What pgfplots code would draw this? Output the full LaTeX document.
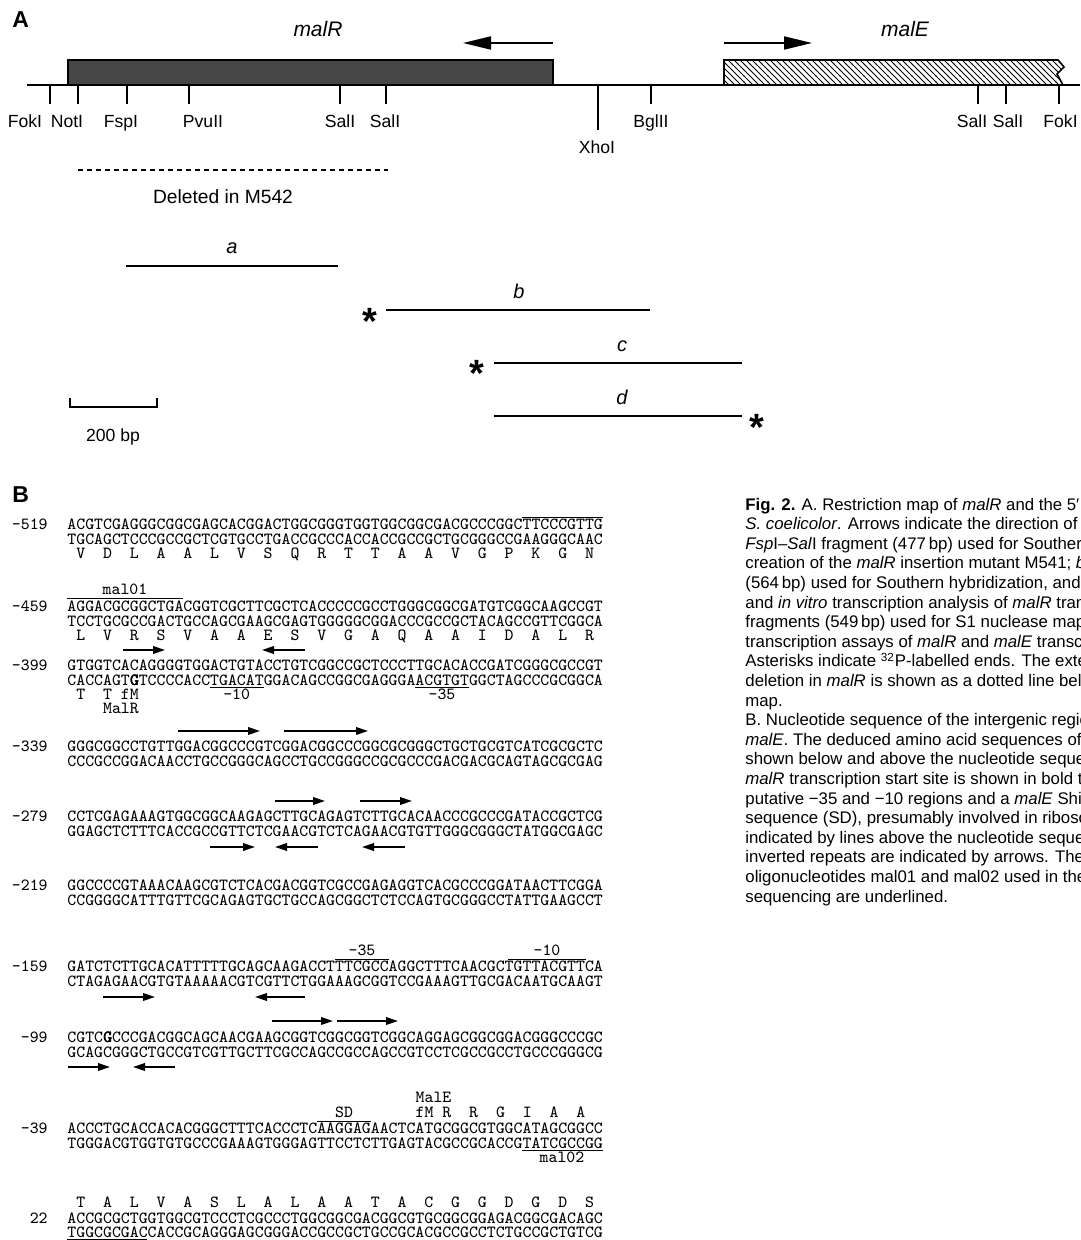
\documentclass[border=0pt]{standalone}
\usepackage{fontspec}
\setmainfont{Liberation Sans}
\usepackage{pgfplots}
\pgfplotsset{compat=1.18}
\usetikzlibrary{patterns,arrows.meta}
\newcommand{\sq}{\ttfamily\fontsize{8.5}{8.5}\selectfont}
\newcommand{\bG}{\rlap{\kern0.3pt G}\rlap{\kern0.15pt G}G}
\begin{document}
\begin{tikzpicture}[
  seq/.style={anchor=base west, inner sep=0pt, font=\sq},
  num/.style={anchor=base east, inner sep=0pt, font=\sq},
  cen/.style={anchor=base, inner sep=0pt, font=\sq},
  site/.style={anchor=base, inner sep=0pt, font=\fontsize{8.8}{8.8}\selectfont},
  capt/.style={anchor=base west, inner sep=0pt, font=\fontsize{8.4}{10}\selectfont},
  ra/.style={line width=0.9pt, -{Triangle[length=6pt,width=3.8pt]}},
  ln/.style={line width=0.5pt},
  star/.style={anchor=center, inner sep=0pt, font=\fontsize{19}{19}\selectfont\bfseries},
]
\useasboundingbox (0,0) rectangle (540pt,620pt);
\clip (0,0) rectangle (540pt,620pt);
\begin{axis}[at={(0pt,0pt)}, anchor=south west, width=540pt, height=620pt,
  scale only axis, xmin=0, xmax=1080, ymin=0, ymax=1240, y dir=reverse,
  hide axis, clip=false]
% ---------------- Part A ----------------
\addplot[line width=1pt] coordinates {(27,85) (1080,85)};
\addplot[draw=black, fill=black!72, line width=0.8pt] coordinates {(68,60) (553,60) (553,85) (68,85)} -- cycle;
\addplot[draw=black, pattern=north west lines, line width=0.8pt] coordinates {(724,85) (724,60) (1058,60) (1064,67) (1057,74) (1063,85)} -- cycle;
\addplot[line width=1pt, -{Triangle[length=14pt,width=6.5pt]}] coordinates {(553,43) (463,43)};
\addplot[line width=1pt, -{Triangle[length=14pt,width=6.5pt]}] coordinates {(724,43) (812,43)};
\pgfplotsinvokeforeach{50,78,127,189,340,386,651,978,1006,1059}{
  \addplot[line width=0.6pt] coordinates {(#1,85) (#1,104)};
}
\addplot[line width=0.6pt] coordinates {(598,85) (598,130)};
\node[anchor=base west, inner sep=0pt, font=\fontsize{11.5}{11.5}\selectfont\bfseries] at (12,28) {A};
\node[anchor=base, inner sep=0pt, font=\fontsize{10.5}{10.5}\selectfont\itshape] at (318,37) {malR};
\node[anchor=base, inner sep=0pt, font=\fontsize{10.5}{10.5}\selectfont\itshape] at (905,37) {malE};
\node[site] at (25,127.5) {FokI};
\node[site] at (67,127.5) {NotI};
\node[site] at (121,127.5) {FspI};
\node[site] at (203,127.5) {PvuII};
\node[site] at (340,127.5) {SalI};
\node[site] at (385,127.5) {SalI};
\node[site] at (651,127.5) {BglII};
\node[site] at (972,127.5) {SalI};
\node[site] at (1008,127.5) {SalI};
\node[site, anchor=base west] at (1043,127.5) {FokI};
\node[site] at (597,154) {XhoI};
\addplot[line width=1pt, dash pattern=on 2.5pt off 2pt] coordinates {(78,170) (388,170)};
\node[anchor=base, inner sep=0pt, font=\fontsize{9.6}{9.6}\selectfont] at (223,204) {Deleted in M542};
\addplot[line width=1pt] coordinates {(126,266) (338,266)};
\addplot[line width=1pt] coordinates {(386,310) (650,310)};
\addplot[line width=1pt] coordinates {(494,363) (742,363)};
\addplot[line width=1pt] coordinates {(494,416) (742,416)};
\node[anchor=base, inner sep=0pt, font=\fontsize{10}{10}\selectfont\itshape] at (232,254) {a};
\node[anchor=base, inner sep=0pt, font=\fontsize{10}{10}\selectfont\itshape] at (519,299) {b};
\node[anchor=base, inner sep=0pt, font=\fontsize{10}{10}\selectfont\itshape] at (622,352) {c};
\node[anchor=base, inner sep=0pt, font=\fontsize{10}{10}\selectfont\itshape] at (622,405) {d};
\node[star] at (370,321) {*};
\node[star] at (477,373) {*};
\node[star] at (757,427) {*};
\addplot[line width=0.6pt] coordinates {(70,398) (70,407) (157,407) (157,398)};
\node[site] at (113,441) {200 bp};
% ---------------- Part B ----------------
\node[anchor=base west, inner sep=0pt, font=\fontsize{11.5}{11.5}\selectfont\bfseries] at (12,502) {B};
% -519
\node[num] at (48,529) {-519};
\node[seq] at (67,529) {ACGTCGAGGGCGGCGAGCACGGACTGGCGGGTGGTGGCGGCGACGCCCGGCTTCCCGTTG};
\node[seq] at (67,544) {TGCAGCTCCCGCCGCTCGTGCCTGACCGCCCACCACCGCCGCTGCGGGCCGAAGGGCAAC};
\node[seq] at (67,558) {~V~~D~~L~~A~~A~~L~~V~~S~~Q~~R~~T~~T~~A~~A~~V~~G~~P~~K~~G~~N};
\addplot[ln] coordinates {(522,517) (603,517)};
% mal01
\node[cen] at (125,594) {mal01};
\addplot[ln] coordinates {(67,598) (183,598)};
% -459
\node[num] at (48,611) {-459};
\node[seq] at (67,611) {AGGACGCGGCTGACGGTCGCTTCGCTCACCCCCGCCTGGGCGGCGATGTCGGCAAGCCGT};
\node[seq] at (67,626) {TCCTGCGCCGACTGCCAGCGAAGCGAGTGGGGGCGGACCCGCCGCTACAGCCGTTCGGCA};
\node[seq] at (67,640) {~L~~V~~R~~S~~V~~A~~A~~E~~S~~V~~G~~A~~Q~~A~~A~~I~~D~~A~~L~~R};
\addplot[ra] coordinates {(123,650) (165,650)};
\addplot[ra] coordinates {(305,650) (262,650)};
% -399
\node[num] at (48,670) {-399};
\node[seq] at (67,670) {GTGGTCACAGGGGTGGACTGTACCTGTCGGCCGCTCCCTTGCACACCGATCGGGCGCCGT};
\node[seq] at (67,685) {CACCAGT\bG TCCCCACCTGACATGGACAGCCGGCGAGGGAACGTGTGGCTAGCCCGCGGCA};
\addplot[ln] coordinates {(210,687.5) (263.5,687.5)};
\addplot[ln] coordinates {(415.3,687.5) (468.9,687.5)};
\node[seq] at (67,699.5) {~T~~T~fM};
\node[seq] at (67,713.5) {~~~~MalR};
\node[cen] at (236.7,699.5) {-10};
\node[cen] at (442,699.5) {-35};
\addplot[ra] coordinates {(178,731) (260,731)};
\addplot[ra] coordinates {(284,731) (368,731)};
% -339
\node[num] at (48,751) {-339};
\node[seq] at (67,751) {GGGCGGCCTGTTGGACGGCCCGTCGGACGGCCCGGCGCGGGCTGCTGCGTCATCGCGCTC};
\node[seq] at (67,766) {CCCGCCGGACAACCTGCCGGGCAGCCTGCCGGGCCGCGCCCGACGACGCAGTAGCGCGAG};
\addplot[ra] coordinates {(275,801) (325,801)};
\addplot[ra] coordinates {(360,801) (412,801)};
% -279
\node[num] at (48,821) {-279};
\node[seq] at (67,821) {CCTCGAGAAAGTGGCGGCAAGAGCTTGCAGAGTCTTGCACAACCCGCCCGATACCGCTCG};
\node[seq] at (67,836) {GGAGCTCTTTCACCGCCGTTCTCGAACGTCTCAGAACGTGTTGGGCGGGCTATGGCGAGC};
\addplot[ra] coordinates {(210,847) (255,847)};
\addplot[ra] coordinates {(318,847) (275,847)};
\addplot[ra] coordinates {(405,847) (362,847)};
% -219
\node[num] at (48,890) {-219};
\node[seq] at (67,890) {GGCCCCGTAAACAAGCGTCTCACGACGGTCGCCGAGAGGTCACGCCCGGATAACTTCGGA};
\node[seq] at (67,905) {CCGGGGCATTTGTTCGCAGAGTGCTGCCAGCGGCTCTCCAGTGCGGGCCTATTGAAGCCT};
% -159
\node[cen] at (362,955) {-35};
\addplot[ln] coordinates {(335,959) (389,959)};
\node[cen] at (547,955) {-10};
\addplot[ln] coordinates {(508,959) (586,959)};
\node[num] at (48,971) {-159};
\node[seq] at (67,971) {GATCTCTTGCACATTTTTGCAGCAAGACCTTTCGCCAGGCTTTCAACGCTGTTACGTTCA};
\node[seq] at (67,986) {CTAGAGAACGTGTAAAAACGTCGTTCTGGAAAGCGGTCCGAAAGTTGCGACAATGCAAGT};
\addplot[ra] coordinates {(103,997) (155,997)};
\addplot[ra] coordinates {(305,997) (255,997)};
\addplot[ra] coordinates {(272,1021) (333,1021)};
\addplot[ra] coordinates {(337,1021) (398,1021)};
% -99
\node[num] at (48,1042) {-99};
\node[seq] at (67,1042) {CGTC\bG CCCGACGGCAGCAACGAAGCGGTCGGCGGTCGGCAGGAGCGGCGGACGGGCCCGC};
\node[seq] at (67,1057) {GCAGCGGGCTGCCGTCGTTGCTTCGCCAGCCGCCAGCCGTCCTCGCCGCCTGCCCGGGCG};
\addplot[ra] coordinates {(68,1067) (110,1067)};
\addplot[ra] coordinates {(175,1067) (133,1067)};
% -39
\node[seq] at (415.3,1102) {MalE};
\node[cen] at (344,1117) {SD};
\addplot[ln] coordinates {(317,1121) (371,1121)};
\node[seq] at (415.3,1117) {fM~R~~R~~G~~I~~A~~A};
\node[num] at (48,1133) {-39};
\node[seq] at (67,1133) {ACCCTGCACCACACGGGCTTTCACCCTCAAGGAGAACTCATGCGGCGTGGCATAGCGGCC};
\node[seq] at (67,1148) {TGGGACGTGGTGTGCCCGAAAGTGGGAGTTCCTCTTGAGTACGCCGCACCGTATCGCCGG};
\addplot[ln] coordinates {(522,1150.5) (603,1150.5)};
\node[cen] at (562,1162) {mal02};
% 22
\node[seq] at (67,1207) {~T~~A~~L~~V~~A~~S~~L~~A~~L~~A~~A~~T~~A~~C~~G~~G~~D~~G~~D~~S};
\node[num] at (48,1223) {22};
\node[seq] at (67,1223) {ACCGCGCTGGTGGCGTCCCTCGCCCTGGCGGCGACGGCGTGCGGCGGAGACGGCGACAGC};
\node[seq] at (67,1237.5) {TGGCGCGACCACCGCAGGGAGCGGGACCGCCGCTGCCGCACGCCGCCTCTGCCGCTGTCG};
\addplot[ln] coordinates {(67,1239.3) (147,1239.3)};
% ---------------- Caption ----------------
\node[capt] at (745,510) {\textbf{Fig. 2.} A. Restriction map of \textit{malR} and the 5′ region of \textit{malE} of};
\node[capt] at (745,529.6) {\textit{S. coelicolor}. Arrows indicate the direction of transcription. \textit{a},};
\node[capt] at (745,549.2) {\textit{Fsp}I–\textit{Sal}I fragment (477\,bp) used for Southern hybridization and};
\node[capt] at (745,568.8) {creation of the \textit{malR} insertion mutant M541; \textit{b}, \textit{Sal}I–\textit{Bgl}II};
\node[capt] at (745,588.4) {(564\,bp) used for Southern hybridization, and S1 nuclease mapping};
\node[capt] at (745,608) {and \textit{in vitro} transcription analysis of \textit{malR} transcripts; \textit{c} and \textit{d},};
\node[capt] at (745,627.6) {fragments (549\,bp) used for S1 nuclease mapping and \textit{in vitro}};
\node[capt] at (745,647.2) {transcription assays of \textit{malR} and \textit{malE} transcripts respectively.};
\node[capt] at (745,666.8) {Asterisks indicate \textsuperscript{32}P-labelled ends. The extent of the};
\node[capt] at (745,686.4) {deletion in \textit{malR} is shown as a dotted line below the restriction};
\node[capt] at (745,706) {map.};
\node[capt] at (745,725.6) {B. Nucleotide sequence of the intergenic region between \textit{malR} and};
\node[capt] at (745,745.2) {\textit{malE}. The deduced amino acid sequences of \textit{malR} and \textit{malE} are};
\node[capt] at (745,764.8) {shown below and above the nucleotide sequence respectively. The};
\node[capt] at (745,784.4) {\textit{malR} transcription start site is shown in bold type, and the};
\node[capt] at (745,804) {putative −35 and −10 regions and a \textit{malE} Shine–Dalgarno};
\node[capt] at (745,823.6) {sequence (SD), presumably involved in ribosome binding, are};
\node[capt] at (745,843.2) {indicated by lines above the nucleotide sequence. Potential};
\node[capt] at (745,862.8) {inverted repeats are indicated by arrows. The positions of the};
\node[capt] at (745,882.4) {oligonucleotides mal01 and mal02 used in the primer extension};
\node[capt] at (745,902) {sequencing are underlined.};
\end{axis}
\end{tikzpicture}
\end{document}
